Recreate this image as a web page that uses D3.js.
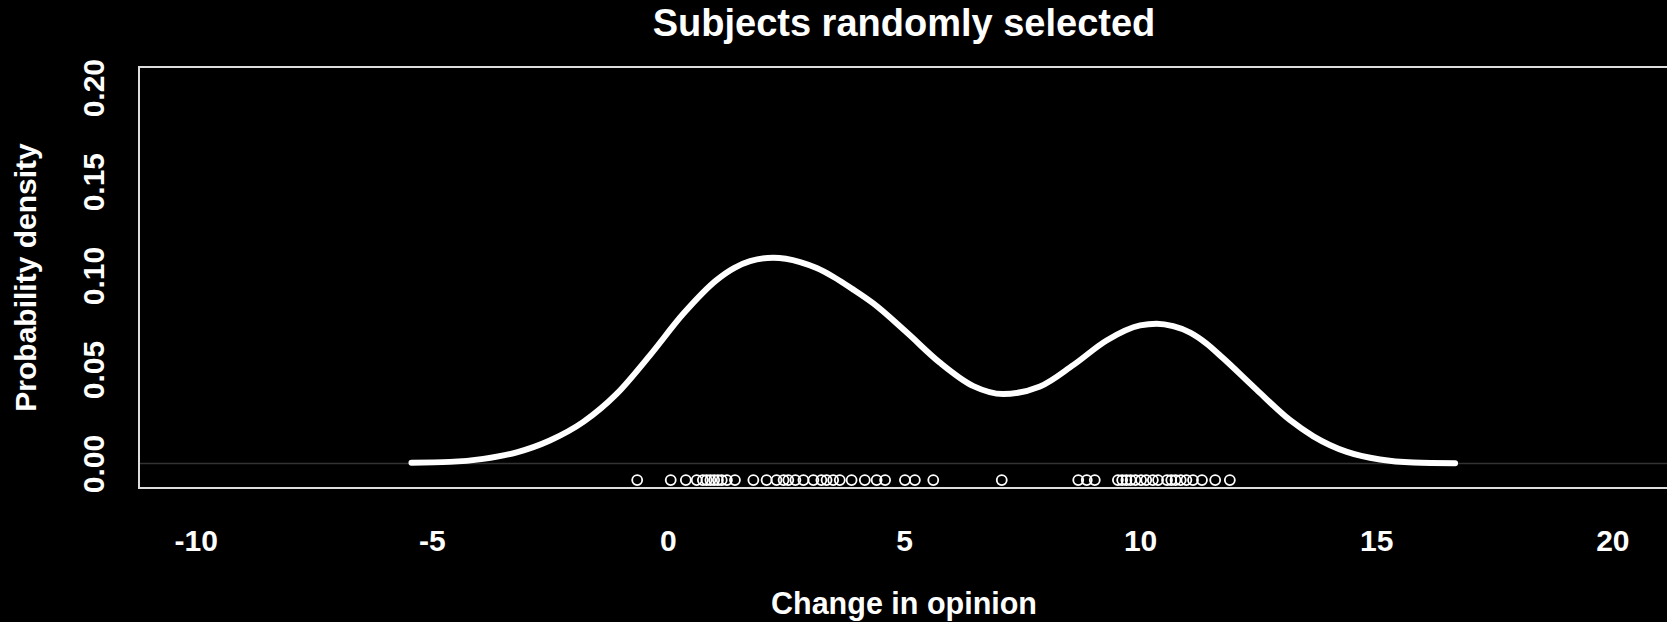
<!DOCTYPE html>
<html>
<head>
<meta charset="utf-8">
<script src="https://cdn.jsdelivr.net/npm/d3@7"></script>
<style>
  html, body { margin: 0; padding: 0; background: #000; }
  svg { display: block; }
  text { font-family: "Liberation Sans", Arial, Helvetica, sans-serif; font-weight: bold; fill: #fff; }
</style>
</head>
<body>
<svg id="chart" width="1667" height="622"></svg>
<script>
// Kernel density of the change in opinion (x) with its estimated density (y)
const densityX = [-5.43, -4.62, -3.91, -3.20, -2.50, -1.79, -1.08, -0.38, 0.33, 1.03, 1.40, 1.74, 2.23, 2.80,
                  3.15, 3.50, 3.90, 4.35, 5.06, 5.76, 6.47, 7.10, 7.88, 8.59, 9.29, 10.00, 10.35, 10.70, 11.06,
                  11.40, 11.76, 12.47, 13.17, 13.67, 14.38, 15.08, 15.79, 16.67];
const densityY = [0.0005, 0.0009, 0.0025, 0.0060, 0.0123, 0.0222, 0.0372, 0.0576, 0.0798, 0.0976, 0.1040, 0.1077, 0.1095, 0.1072,
                  0.1040, 0.0994, 0.0930, 0.0852, 0.0697, 0.0537, 0.0412, 0.0370, 0.0410, 0.0525, 0.0655, 0.0735, 0.0744, 0.0731, 0.0697,
                  0.0640, 0.0560, 0.0392, 0.0232, 0.0145, 0.0062, 0.0022, 0.0006, 0.0002];

// Individual subjects' change in opinion, shown as a rug of open circles
const subjects = [-0.65, 0.06, 0.38, 0.61, 0.74, 0.82, 0.90, 0.98, 1.06, 1.14, 1.25, 1.42, 1.81, 2.09, 2.30,
                  2.45, 2.55, 2.70, 2.87, 3.08, 3.25, 3.36, 3.50, 3.64, 3.89, 4.17, 4.42, 4.60, 5.02, 5.23, 5.62,
                  7.07,
                  8.69, 8.87, 9.04, 9.53, 9.62, 9.71, 9.80, 9.90, 10.02, 10.13, 10.27, 10.38, 10.57, 10.66,
                  10.75, 10.86, 10.98, 11.12, 11.31, 11.59, 11.90];
const rugLevel = -0.0088;

const xTicks = [-10, -5, 0, 5, 10, 15, 20];
const yTicks = [0.00, 0.05, 0.10, 0.15, 0.20];

const titleText = "Subjects randomly selected";
const xTitle = "Change in opinion";
const yTitle = "Probability density";

const svg = d3.select("#chart");
const plot = { left: 139, right: 1669, top: 67, bottom: 488 };

const x = d3.scaleLinear().domain([-11.2, 21.2]).range([plot.left, plot.right]);
const y = d3.scaleLinear().domain([-0.013, 0.211]).range([plot.bottom, plot.top]);

// zero reference line
svg.append("line")
  .attr("x1", plot.left).attr("x2", plot.right)
  .attr("y1", y(0)).attr("y2", y(0))
  .attr("stroke", "#333").attr("stroke-width", 1.5);

// density curve
const pts = densityX.map((d, i) => [d, densityY[i]]);
svg.append("path")
  .datum(pts)
  .attr("fill", "none")
  .attr("stroke", "#fff")
  .attr("stroke-width", 6)
  .attr("stroke-linecap", "round")
  .attr("stroke-linejoin", "round")
  .attr("d", d3.line().x(d => x(d[0])).y(d => y(d[1])).curve(d3.curveMonotoneX));

// rug of subjects
svg.append("g").selectAll("circle")
  .data(subjects)
  .join("circle")
  .attr("cx", d => x(d))
  .attr("cy", y(rugLevel))
  .attr("r", 5)
  .attr("fill", "none")
  .attr("stroke", "#fff")
  .attr("stroke-width", 1.8);

// plot frame
svg.append("rect")
  .attr("x", plot.left).attr("y", plot.top)
  .attr("width", plot.right - plot.left).attr("height", plot.bottom - plot.top)
  .attr("fill", "none").attr("stroke", "#ddd").attr("stroke-width", 2);

// x axis (labels only)
const gx = svg.append("g")
  .attr("transform", `translate(0,${plot.bottom})`)
  .call(d3.axisBottom(x).tickValues(xTicks).tickSize(0).tickFormat(d => String(d)));
gx.select(".domain").remove();
gx.selectAll("text")
  .attr("y", 63).attr("dy", 0)
  .style("font-size", "30px");

// y axis (rotated labels)
const gy = svg.append("g")
  .attr("transform", `translate(${plot.left},0)`)
  .call(d3.axisLeft(y).tickValues(yTicks).tickSize(0).tickFormat(d3.format(".2f")));
gy.select(".domain").remove();
gy.selectAll("text")
  .attr("x", 0).attr("y", 0).attr("dy", 0)
  .attr("text-anchor", "middle")
  .attr("transform", "translate(-35,0) rotate(-90)")
  .style("font-size", "30px");

const cx = (plot.left + plot.right) / 2;
svg.append("text")
  .attr("x", cx).attr("y", 36)
  .attr("text-anchor", "middle")
  .style("font-size", "38px")
  .text(titleText);

svg.append("text")
  .attr("x", cx).attr("y", 614)
  .attr("text-anchor", "middle")
  .style("font-size", "30.5px")
  .text(xTitle);

svg.append("text")
  .attr("transform", `translate(36,${(plot.top + plot.bottom) / 2}) rotate(-90)`)
  .attr("text-anchor", "middle")
  .style("font-size", "30px")
  .text(yTitle);
</script>
</body>
</html>
